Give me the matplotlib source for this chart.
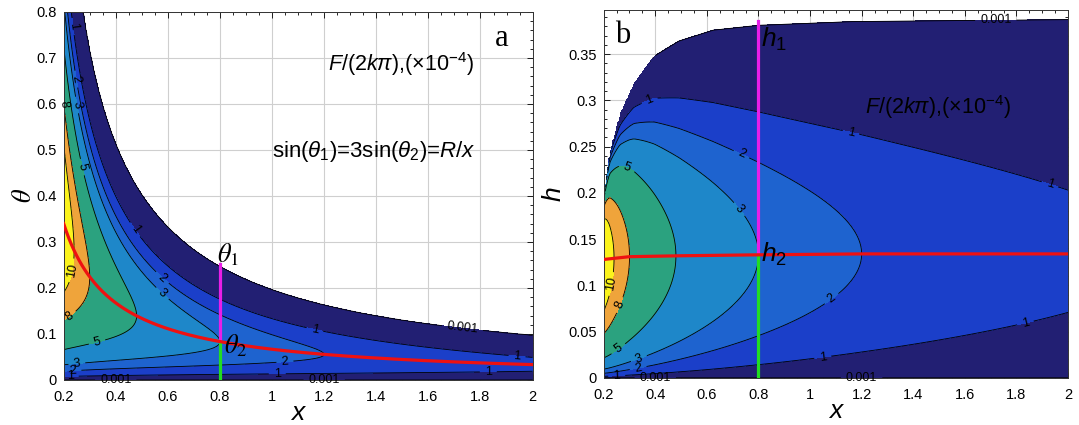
"""Two filled-contour panels: F/(2k pi) over (x, theta) and over (x, h)."""
import numpy as np
import matplotlib
matplotlib.use("Agg")
import matplotlib.pyplot as plt
from matplotlib.colors import ListedColormap, BoundaryNorm

plt.rcParams.update({
    "font.family": ["Liberation Sans", "DejaVu Sans"],
    "mathtext.fontset": "custom",
    "mathtext.rm": "Liberation Sans",
    "mathtext.it": "Liberation Sans:italic",
    "mathtext.bf": "Liberation Sans:bold",
})

# ---- values ----
R = 0.2                 # sin(theta1) = R/x
RATIO = 3.0             # sin(theta1) = 3 sin(theta2)
RIDGE_COEF = 2.4        # ridge value ~ 2.4/x (tips of 10, 8, 5, 3, 2 contours)
Q_A = 0.75
Q_B = 0.62
X_CUT = 0.8

LEVELS = [0.001, 1, 2, 3, 5, 8, 10, 1000]
LINE_LEVELS = [0.001, 1, 2, 3, 5, 8, 10]
FILL_COLORS = ["#221f73", "#1b3fc9", "#1e63cf", "#1e87c9",
               "#2ba27f", "#efa43b", "#fbf31c"]

# upper edge of the computed region in panel b
TOP_X = [0.2, 0.223, 0.263, 0.317, 0.397, 0.491, 0.625, 0.8, 1.16, 1.56, 2.0]
TOP_H = [0.199, 0.244, 0.285, 0.319, 0.349, 0.366, 0.379, 0.385, 0.390, 0.392, 0.394]

# red ridge line in panel b
RED_B_X = [0.2, 0.3, 0.5, 0.8, 1.2, 2.0]
RED_B_H = [0.128, 0.131, 0.132, 0.133, 0.134, 0.134]

H1_TOP = 0.386

# contour labels: (level, x, y)
LABELS_A = [(1, 0.255, 0.77), (2, 0.262, 0.655), (3, 0.275, 0.60),
            (8, 0.205, 0.60), (5, 0.29, 0.465), (10, 0.215, 0.24),
            (8, 0.218, 0.14), (5, 0.33, 0.078), (3, 0.25, 0.04),
            (2, 0.235, 0.025), (1, 0.225, 0.01), (0.001, 0.40, 0.0),
            (1, 0.50, 0.337), (2, 0.594, 0.232), (3, 0.59, 0.195),
            (1, 1.165, 0.111), (0.001, 1.73, 0.107), (1, 1.94, 0.05),
            (1, 1.83, 0.016), (2, 1.05, 0.033), (1, 1.02, 0.009),
            (0.001, 1.20, 0.0)]
LABELS_B = [(1, 0.382, 0.297), (5, 0.282, 0.221), (2, 0.731, 0.24),
            (3, 0.711, 0.179), (1, 1.16, 0.267), (1, 1.925, 0.205),
            (2, 1.08, 0.087), (1, 1.83, 0.065), (1, 1.046, 0.029),
            (10, 0.22, 0.102), (8, 0.26, 0.079), (5, 0.25, 0.034),
            (3, 0.33, 0.026), (2, 0.33, 0.016), (1, 0.25, 0.005),
            (0.001, 0.40, 0.0), (0.001, 1.20, 0.0), (0.001, 1.72, 0.393)]

FMT = {0.001: "0.001", 1: "1", 2: "2", 3: "3", 5: "5", 8: "8", 10: "10"}

cmap = ListedColormap(FILL_COLORS)
norm = BoundaryNorm(LEVELS, cmap.N)

# ---- panel a field ----
x = np.linspace(0.2, 2.0, 361)
th = np.linspace(0.0, 0.8, 321)
XA, TA = np.meshgrid(x, th)
t = XA * np.sin(TA) / R
tr = 1.0 / RATIO
p = (1.0 / tr**2 - 1.0) / 2.0
shape_a = t * np.clip(1.0 - t**2, 0.0, None) ** p
shape_a_max = tr * (1.0 - tr**2) ** p
Fa = RIDGE_COEF / XA * (shape_a / shape_a_max) ** Q_A
Fa = np.where(t <= 1.0, Fa, np.nan)

# ---- panel b field ----
h = np.linspace(0.0, 0.398, 321)
XB, HB = np.meshgrid(x, h)
htop = np.interp(x, TOP_X, TOP_H)[None, :]
hr = np.interp(x, RED_B_X, RED_B_H)[None, :]
u = HB / htop
ur = hr / htop
pb = (1.0 / ur**2 - 1.0) / 2.0
shape_b = u * np.clip(1.0 - u**2, 0.0, None) ** pb
shape_b_max = ur * (1.0 - ur**2) ** pb
Fb = RIDGE_COEF / XB * (shape_b / shape_b_max) ** Q_B
Fb = np.where(u <= 1.0, Fb, np.nan)

fig = plt.figure(figsize=(10.79, 4.25), dpi=100)
axa = fig.add_axes([0.059, 0.106, 0.4346, 0.866])
axb = fig.add_axes([0.5595, 0.111, 0.4303, 0.866])


def style(ax, yticks, ylim):
    ax.set_xlim(0.2, 2.0)
    ax.set_ylim(*ylim)
    xt = np.round(np.arange(0.2, 2.01, 0.2), 2)
    ax.set_xticks(xt)
    ax.set_xticklabels([f"{v:g}" for v in xt])
    ax.set_yticks(yticks)
    ax.set_yticklabels([f"{v:g}" for v in np.round(yticks, 3)])
    ax.grid(True, color="#cfcfcf", linewidth=0.8)
    ax.set_axisbelow(True)
    ax.minorticks_on()
    ax.tick_params(which="both", direction="in", top=True, right=True,
                   labelsize=10.5, width=0.6)
    ax.tick_params(which="major", length=4)
    ax.tick_params(which="minor", length=2)
    ax.tick_params(axis="x", pad=7)
    ax.tick_params(axis="y", pad=5)
    for s in ax.spines.values():
        s.set_linewidth(0.7)
        s.set_color("#333333")


def panel(ax, X, Y, Z, labels):
    ax.contourf(X, Y, Z, levels=LEVELS, cmap=cmap, norm=norm, zorder=1)
    for lev in LINE_LEVELS:
        cs = ax.contour(X, Y, Z, levels=[lev], colors="black",
                        linewidths=0.6, zorder=2)
        pts = [(lx, ly) for (lv, lx, ly) in labels if lv == lev]
        if not pts:
            continue
        labs = cs.clabel(manual=pts, inline=True, fontsize=9, fmt=FMT)
        for lab in labs:
            lab.set_clip_on(False)


# ---- panel a ----
style(axa, np.arange(0, 0.81, 0.1), (0, 0.8))
panel(axa, XA, TA, Fa, LABELS_A)
red_x = x
red_t = np.arcsin(R / (RATIO * red_x))
axa.plot(red_x, red_t, color="#ee1111", lw=2.3, zorder=4)
th1_cut = np.arcsin(R / X_CUT)
th2_cut = np.arcsin(R / (RATIO * X_CUT))
axa.plot([X_CUT, X_CUT], [th2_cut, th1_cut], color="#e81ee8", lw=2.3, zorder=3)
axa.plot([X_CUT, X_CUT], [0, th2_cut], color="#22dd22", lw=2.3, zorder=3)
axa.text(0.79, 0.255, r"$\theta_1$", fontsize=19, math_fontfamily="stix", zorder=5)
axa.text(0.815, 0.058, r"$\theta_2$", fontsize=19, math_fontfamily="stix", zorder=5)
axa.text(1.883, 0.743, "a", family="Liberation Serif", fontsize=22,
         ha="center", va="center")
axa.text(1.495, 0.687, r"$F/(2k\pi){,}(\times10^{-4})$", fontsize=15.5,
         ha="center", va="center")
axa.text(1.39, 0.496, r"sin($\theta_1$)=3sin($\theta_2$)=$R/x$", fontsize=16,
         ha="center", va="center")
axa.set_xlabel("x", fontsize=19, style="italic", labelpad=-2)
axa.set_ylabel(r"$\theta$", fontsize=19, math_fontfamily="stix", labelpad=0)

# ---- panel b ----
style(axb, np.arange(0, 0.351, 0.05), (0, 0.398))
panel(axb, XB, HB, Fb, LABELS_B)
axb.plot(RED_B_X, RED_B_H, color="#ee1111", lw=2.3, zorder=4)
h2_cut = np.interp(X_CUT, RED_B_X, RED_B_H)
axb.plot([X_CUT, X_CUT], [h2_cut, H1_TOP], color="#e81ee8", lw=2.3, zorder=3)
axb.plot([X_CUT, X_CUT], [0, h2_cut], color="#22dd22", lw=2.3, zorder=3)
axb.text(0.81, 0.358, r"$h_1$", fontsize=19, zorder=5)
axb.text(0.81, 0.126, r"$h_2$", fontsize=19, zorder=5)
axb.text(0.275, 0.37, "b", family="Liberation Serif", fontsize=22,
         ha="center", va="center")
axb.text(1.496, 0.293, r"$F/(2k\pi){,}(\times10^{-4})$", fontsize=15.5,
         ha="center", va="center")
axb.set_xlabel("x", fontsize=19, style="italic", labelpad=-2)
axb.set_ylabel("h", fontsize=19, style="italic", labelpad=2)

fig.savefig("out.png", dpi=100, facecolor="white")
